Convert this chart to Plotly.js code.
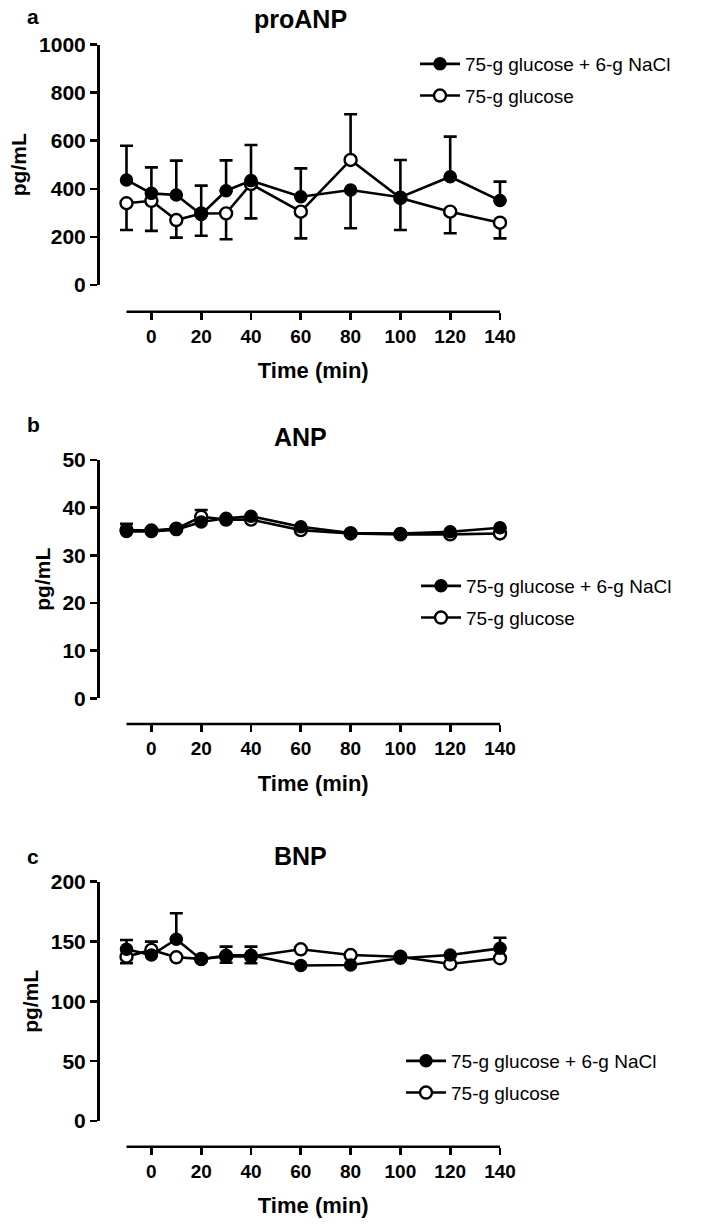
<!DOCTYPE html>
<html>
<head>
<meta charset="utf-8">
<script src="https://cdn.plot.ly/plotly-3.0.1.min.js"></script>
<style>
  html, body { margin: 0; padding: 0; background: #fff; }
  #chart { width: 709px; height: 1225px; }
</style>
</head>
<body>
<div id="chart"></div>
<script>
// ---------- data ----------
const time = [-10, 0, 10, 20, 30, 40, 60, 80, 100, 120, 140];
const timeTicks = [0, 20, 40, 60, 80, 100, 120, 140];

const seriesNames = ["75-g glucose + 6-g NaCl", "75-g glucose"];

// proANP (pg/mL)
const proANP_salt      = [437, 381, 374, 293, 392, 434, 367, 395, 365, 450, 351];
const proANP_salt_up   = [142, 108, 143, 120, 126, 148, 118, 0, 155, 167, 79];
const proANP_salt_down = [0, 0, 0, 0, 0, 0, 0, 159, 0, 0, 0];
const proANP_glu       = [340, 350, 270, 297, 298, 420, 305, 520, 362, 305, 259];
const proANP_glu_up    = [0, 0, 0, 0, 0, 0, 0, 190, 0, 0, 0];
const proANP_glu_down  = [111, 125, 73, 92, 108, 143, 111, 0, 133, 90, 65];

// ANP (pg/mL)
const ANP_salt      = [35.0, 35.0, 35.4, 37.0, 37.8, 38.2, 36.0, 34.7, 34.6, 34.95, 35.8];
const ANP_salt_up   = [1.6, 0, 0, 0, 0, 0, 0, 0, 0, 0, 0];
const ANP_salt_down = [0, 0, 0, 0, 0, 0, 0, 0, 0, 0, 0];
const ANP_glu       = [35.3, 35.2, 35.6, 38.1, 37.5, 37.5, 35.3, 34.6, 34.4, 34.4, 34.6];
const ANP_glu_up    = [0, 0, 0, 1.4, 0, 0, 0, 0, 0, 0, 0];
const ANP_glu_down  = [0, 0, 0, 0, 0, 0, 0, 0, 0, 0, 0];

// BNP (pg/mL)
const BNP_salt      = [143.5, 138.7, 151.9, 135.0, 138.5, 138.5, 130.0, 130.4, 136.0, 138.7, 144.3];
const BNP_salt_up   = [7.8, 0, 21.7, 0, 7.2, 7.2, 0, 0, 0, 0, 8.9];
const BNP_salt_down = [0, 0, 0, 0, 0, 0, 0, 0, 0, 0, 0];
const BNP_glu       = [137.3, 143.0, 136.8, 135.5, 137.5, 137.5, 143.5, 138.7, 137.3, 131.2, 136.0];
const BNP_glu_up    = [0, 6.9, 0, 0, 0, 0, 0, 0, 0, 0, 0];
const BNP_glu_down  = [5.5, 0, 0, 0, 5.2, 5.7, 0, 0, 0, 0, 0];

const panelLetters = ["a", "b", "c"];
const panelTitles = ["proANP", "ANP", "BNP"];
const yTitle = "pg/mL";
const xTitle = "Time (min)";

// ---------- styling / layout ----------
const W = 709, H = 1225;
const px = v => v / W;           // pixel x -> paper
const py = v => 1 - v / H;       // pixel y -> paper

const FONT = "Liberation Sans, Arial, Helvetica, sans-serif";
const LW = 2.6;

// x range padded a little so end error-bar caps are not clipped;
// the visible axis line runs from the first to the last time point.
const tMin = time[0], tMax = time[time.length - 1];
const PAD = 3;
const pxFirst = 126.5, pxLast = 500;
const pxPerUnit = (pxLast - pxFirst) / (tMax - tMin);
const xDomainPx = [pxFirst - PAD * pxPerUnit, pxLast + PAD * pxPerUnit];

function mkTrace(name, rank, y, up, down, filled, xa, ya, leg) {
  return {
    type: "scatter", mode: "lines+markers",
    x: time, y: y, name: name,
    xaxis: xa, yaxis: ya, legend: leg, showlegend: true,
    legendgroup: name, legendrank: rank,
    cliponaxis: false,
    line: { color: "#000", width: LW },
    marker: {
      symbol: "circle", size: 12,
      color: filled ? "#000" : "#fff",
      line: { color: "#000", width: filled ? 1.5 : 2.4 }
    },
    error_y: {
      type: "data", symmetric: false,
      array: up, arrayminus: down,
      color: "#000", thickness: LW, width: 6.5
    },
    hoverinfo: "x+y+name"
  };
}

const traces = [
  mkTrace(seriesNames[1], 2, proANP_glu, proANP_glu_up, proANP_glu_down, false, "x", "y", "legend"),
  mkTrace(seriesNames[0], 1, proANP_salt, proANP_salt_up, proANP_salt_down, true, "x", "y", "legend"),
  mkTrace(seriesNames[1], 2, ANP_glu, ANP_glu_up, ANP_glu_down, false, "x2", "y2", "legend2"),
  mkTrace(seriesNames[0], 1, ANP_salt, ANP_salt_up, ANP_salt_down, true, "x2", "y2", "legend2"),
  mkTrace(seriesNames[1], 2, BNP_glu, BNP_glu_up, BNP_glu_down, false, "x3", "y3", "legend3"),
  mkTrace(seriesNames[0], 1, BNP_salt, BNP_salt_up, BNP_salt_down, true, "x3", "y3", "legend3")
];

function xAxis(posPx) {
  return {
    domain: [px(xDomainPx[0]), px(xDomainPx[1])],
    range: [tMin - PAD, tMax + PAD],
    anchor: "free", position: py(posPx),
    tickmode: "array", tickvals: timeTicks, ticktext: timeTicks.map(String),
    ticks: "outside", ticklen: 7, tickwidth: LW, tickcolor: "#000",
    showline: false,
    showgrid: false, zeroline: false,
    tickfont: { family: FONT, size: 19, color: "#000", weight: "bold" },
    title: { text: xTitle, font: { family: FONT, size: 22, color: "#000", weight: "bold" }, standoff: 17 },
    fixedrange: true
  };
}
function yAxis(topPx, botPx, range, dtick) {
  return {
    domain: [py(botPx), py(topPx)],
    range: range, dtick: dtick, tick0: 0,
    anchor: "free", position: px(98),
    ticks: "outside", ticklen: 7, tickwidth: LW, tickcolor: "#000",
    showline: true, linewidth: LW, linecolor: "#000",
    showgrid: false, zeroline: false,
    tickfont: { family: FONT, size: 21, color: "#000", weight: "bold" },
    title: { text: yTitle, font: { family: FONT, size: 21, color: "#000", weight: "bold" }, standoff: 5 },
    fixedrange: true
  };
}

function legendAt(xPx, yMidPx) {
  return {
    x: px(xPx), xanchor: "left",
    y: py(yMidPx), yanchor: "middle",
    bgcolor: "rgba(0,0,0,0)", borderwidth: 0,
    font: { family: FONT, size: 19, color: "#000" },
    traceorder: "grouped", tracegroupgap: 4,
    itemwidth: 40
  };
}

const xAxisPosPx = [311.7, 724, 1146.7];
const shapes = ["x", "x2", "x3"].map((xr, i) => ({
  type: "line", xref: xr, yref: "paper",
  x0: tMin, x1: tMax, y0: py(xAxisPosPx[i]), y1: py(xAxisPosPx[i]),
  line: { color: "#000", width: LW }, layer: "above"
}));

const annotations = [];
const letterY = [16, 425, 856];
const titleY = [19, 437, 856];
for (let i = 0; i < 3; i++) {
  annotations.push({
    xref: "paper", yref: "paper", x: px(33), y: py(letterY[i]),
    xanchor: "center", yanchor: "middle", showarrow: false,
    text: panelLetters[i],
    font: { family: FONT, size: 21, color: "#000", weight: "bold" }
  });
  annotations.push({
    xref: "paper", yref: "paper", x: px(300), y: py(titleY[i]),
    xanchor: "center", yanchor: "middle", showarrow: false,
    text: panelTitles[i],
    font: { family: FONT, size: 25, color: "#000", weight: "bold" }
  });
}

const layout = {
  width: W, height: H,
  margin: { l: 0, r: 0, t: 0, b: 0 },
  paper_bgcolor: "#fff", plot_bgcolor: "rgba(0,0,0,0)",
  font: { family: FONT, color: "#000" },
  xaxis: xAxis(xAxisPosPx[0]),
  yaxis: yAxis(44.5, 285, [0, 1000], 200),
  xaxis2: xAxis(xAxisPosPx[1]),
  yaxis2: yAxis(460, 698.4, [0, 50], 10),
  xaxis3: xAxis(xAxisPosPx[2]),
  yaxis3: yAxis(881.7, 1121, [0, 200], 50),
  legend: legendAt(415, 80),
  legend2: legendAt(416, 602),
  legend3: legendAt(401, 1077),
  shapes: shapes,
  annotations: annotations,
  showlegend: true
};

Plotly.newPlot("chart", traces, layout, { staticPlot: true, displayModeBar: false });
</script>
</body>
</html>
